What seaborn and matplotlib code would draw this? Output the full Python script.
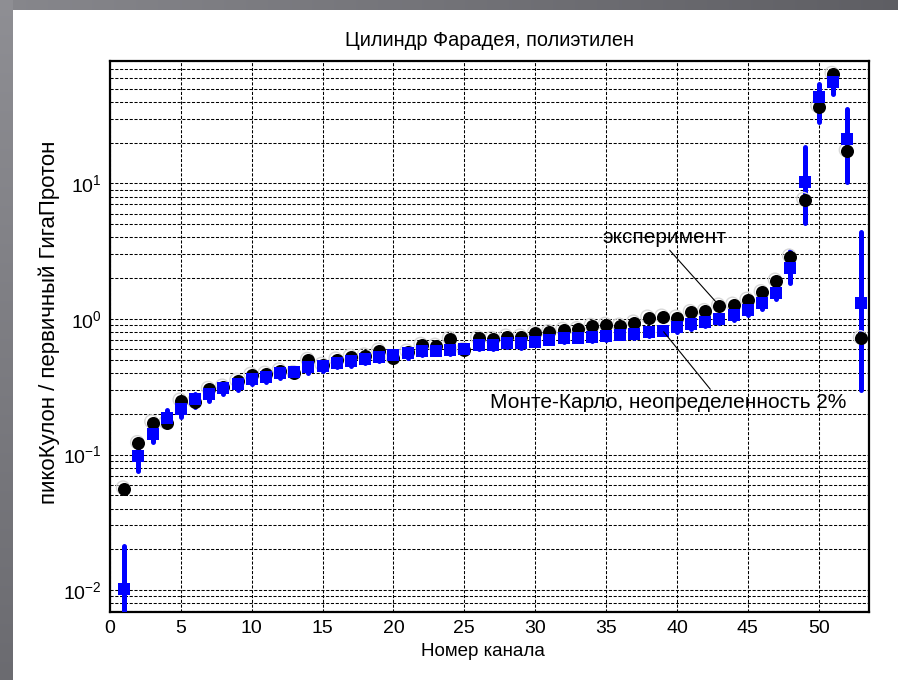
import numpy as np
import pandas as pd
import matplotlib
matplotlib.use("Agg")
import matplotlib.pyplot as plt
import matplotlib.transforms as mtransforms
from matplotlib.ticker import FixedLocator, FixedFormatter, LogLocator, NullFormatter
import seaborn as sns

# Channel numbers
channels = list(range(1, 54))

# Measured charge per primary, pC / GigaProton
experiment = [0.056, 0.121, 0.172, 0.170, 0.249, 0.243, 0.304, 0.316, 0.348, 0.386,
              0.393, 0.415, 0.398, 0.497, 0.457, 0.500, 0.524, 0.536, 0.582, 0.512,
              0.572, 0.642, 0.632, 0.711, 0.590, 0.719, 0.711, 0.739, 0.739, 0.783,
              0.797, 0.828, 0.838, 0.886, 0.902, 0.890, 0.937, 1.02, 1.037, 1.02,
              1.12, 1.14, 1.25, 1.27, 1.38, 1.57, 1.91, 2.88, 7.53, 36.7,
              64.0, 17.3, 0.72]

# Monte-Carlo central values and spread
mc_value = [0.0102, 0.098, 0.142, 0.187, 0.216, 0.257, 0.282, 0.308, 0.329, 0.358,
            0.375, 0.401, 0.410, 0.444, 0.452, 0.475, 0.490, 0.506, 0.527, 0.542,
            0.557, 0.582, 0.582, 0.590, 0.600, 0.642, 0.642, 0.660, 0.667, 0.679,
            0.699, 0.719, 0.727, 0.731, 0.745, 0.765, 0.774, 0.797, 0.820, 0.867,
            0.912, 0.953, 1.00, 1.07, 1.16, 1.32, 1.55, 2.36, 10.3, 43.5,
            56.0, 21.1, 1.32]
mc_low = [0.0060, 0.076, 0.124, 0.165, 0.190, 0.226, 0.250, 0.280, 0.300, 0.330,
          0.345, 0.370, 0.380, 0.400, 0.415, 0.440, 0.450, 0.470, 0.490, 0.510,
          0.520, 0.545, 0.550, 0.550, 0.560, 0.600, 0.600, 0.620, 0.610, 0.640,
          0.660, 0.680, 0.690, 0.690, 0.700, 0.720, 0.730, 0.750, 0.780, 0.800,
          0.850, 0.890, 0.940, 0.990, 1.07, 1.19, 1.40, 1.83, 5.07, 28.5,
          46.0, 10.3, 0.299]
mc_high = [0.021, 0.110, 0.160, 0.212, 0.245, 0.280, 0.300, 0.330, 0.350, 0.380,
           0.395, 0.420, 0.430, 0.470, 0.475, 0.500, 0.515, 0.530, 0.550, 0.565,
           0.580, 0.605, 0.605, 0.615, 0.625, 0.670, 0.670, 0.690, 0.695, 0.710,
           0.730, 0.750, 0.760, 0.760, 0.780, 0.800, 0.810, 0.830, 0.850, 0.900,
           0.950, 0.990, 1.04, 1.12, 1.22, 1.40, 1.66, 3.20, 18.6, 54.5,
           63.0, 35.7, 4.4]

x_ticks = [0, 5, 10, 15, 20, 25, 30, 35, 40, 45, 50]
y_ticks = [1e-2, 1e-1, 1e0, 1e1]
y_tick_labels = [r"$\mathregular{10^{-2}}$", r"$\mathregular{10^{-1}}$",
                 r"$\mathregular{10^{0}}$", r"$\mathregular{10^{1}}$"]

title = "Цилиндр Фарадея, полиэтилен"
x_label = "Номер канала"
y_label = "пикоКулон / первичный ГигаПротон"
exp_label = "эксперимент"
mc_label = "Монте-Карло, неопределенность 2%"

df = pd.DataFrame({"channel": channels, "experiment": experiment,
                   "mc": mc_value, "mc_low": mc_low, "mc_high": mc_high})

sns.set_theme(style="white")
plt.rcParams["font.family"] = ["Liberation Sans", "DejaVu Sans"]
plt.rcParams["mathtext.fontset"] = "custom"
plt.rcParams["mathtext.rm"] = "Liberation Sans"

W, H = 898, 680
fig = plt.figure(figsize=(W / 100, H / 100), dpi=100)
fig.patch.set_facecolor("white")

# grey window frame along the top and left edges
frame = np.ones((H, W, 3))
top_h, left_w = 10, 13
xs = np.linspace(0, 1, W)
ys = np.linspace(0, 1, H)
top_col = 0.53 - 0.16 * xs
frame[:top_h, :, :] = top_col[None, :, None]
left_col = 0.56 - 0.14 * ys
frame[:, :left_w, :] = left_col[:, None, None]
frame[:, :, 2] = np.clip(frame[:, :, 2] + (frame[:, :, 2] < 1) * 0.02, 0, 1)
fig.figimage(frame, 0, 0, origin="upper", zorder=-10)

ax = fig.add_axes([110 / W, 1 - 612 / H, (869 - 110) / W, (612 - 61) / H])
ax.set_facecolor("white")
ax.set_yscale("log")
ax.set_xlim(0, 53.55)
ax.set_ylim(0.0069, 80)

# Monte-Carlo spread columns
ax.vlines(df["channel"], df["mc_low"], df["mc_high"], colors="#0000ff",
          linewidth=3.6, zorder=3, capstyle="round")

# experiment: glossy black balls (light rim drawn slightly up-left)
rim = mtransforms.offset_copy(ax.transData, fig=fig, x=-1.2, y=1.2, units="dots")
ax.scatter(df["channel"], df["experiment"], s=88, facecolor="none",
           edgecolor="#d8d8d8", linewidth=1.0, transform=rim, zorder=4)
sns.scatterplot(data=df, x="channel", y="experiment", ax=ax, marker="o", s=88,
                color="black", edgecolor="black", linewidth=0, zorder=5, legend=False)

# Monte-Carlo central values
sns.scatterplot(data=df, x="channel", y="mc", ax=ax, marker="s", s=64,
                color="#0000ff", edgecolor="#0000ff", linewidth=0, zorder=6, legend=False)

ax.xaxis.set_major_locator(FixedLocator(x_ticks))
ax.yaxis.set_major_locator(FixedLocator(y_ticks))
ax.yaxis.set_major_formatter(FixedFormatter(y_tick_labels))
ax.yaxis.set_minor_locator(LogLocator(base=10, subs=np.arange(2, 10)))
ax.yaxis.set_minor_formatter(NullFormatter())

grid_kw = dict(color="black", linestyle=(0, (3, 1.6)), linewidth=0.75)
ax.grid(True, which="major", axis="both", **grid_kw)
ax.grid(True, which="minor", axis="y", **grid_kw)
ax.set_axisbelow(True)

ax.tick_params(axis="both", which="major", direction="in", length=0,
               labelsize=14, colors="black", pad=6)
ax.tick_params(axis="y", which="minor", length=0)
for sp in ax.spines.values():
    sp.set_color("black")
    sp.set_linewidth(1.6)

ax.set_xlabel(x_label, fontsize=13.5, color="black")
ax.set_ylabel(y_label, fontsize=16, color="black")
ax.xaxis.set_label_coords(0.491, -0.057)
ax.yaxis.set_label_coords(-0.066, 0.526)
ax.set_title(title, fontsize=14.3, color="black", pad=11)

ax.annotate(exp_label, xy=(43, experiment[42]), xytext=(39.1, 4.0),
            ha="center", va="center", fontsize=15, color="black",
            arrowprops=dict(arrowstyle="-", color="black", lw=0.8,
                            shrinkA=0, shrinkB=4, relpos=(0.52, 0.0)), zorder=7)
ax.annotate(mc_label, xy=(39, mc_value[38]), xytext=(39.4, 0.244),
            ha="center", va="center", fontsize=15, color="black",
            arrowprops=dict(arrowstyle="-", color="black", lw=0.8,
                            shrinkA=0, shrinkB=1, relpos=(0.625, 1.0)), zorder=7)

fig.savefig("out.png", dpi=100)
